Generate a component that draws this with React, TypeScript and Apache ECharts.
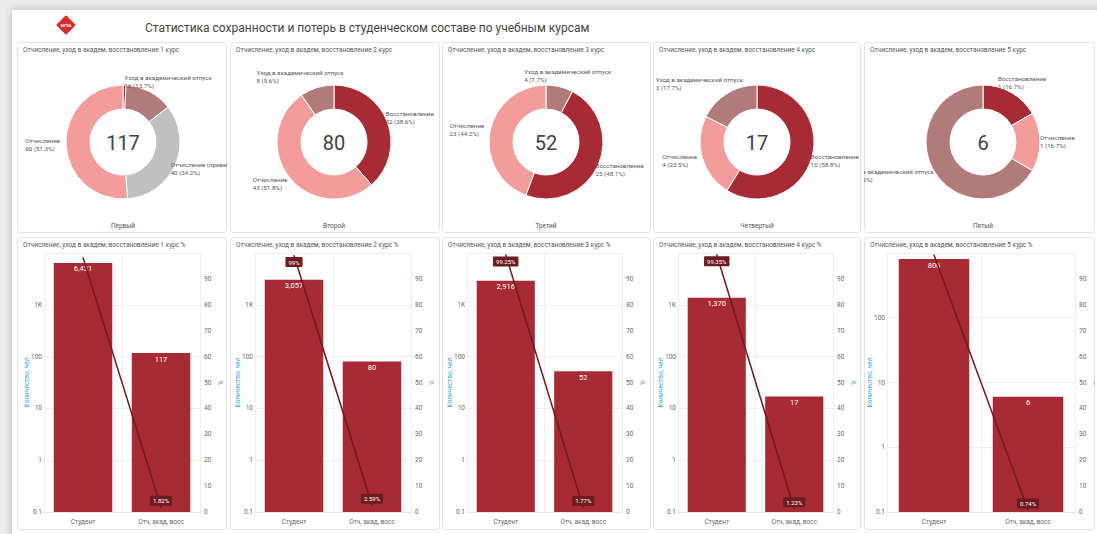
import React, { useEffect, useRef } from 'react';
import * as echarts from 'echarts';

// ---------- DATA ----------
const pageTitle = 'Статистика сохранности и потерь в студенческом составе по учебным курсам';
const courseNumbers = [1, 2, 3, 4, 5];
const courseNames = ['Первый', 'Второй', 'Третий', 'Четвертый', 'Пятый'];
const courseTotals = [117, 80, 52, 17, 6];

const pie1Names = ['Восстановление', 'Уход в академический отпуск', 'Отчисление (приемная комиссия)', 'Отчисление'];
const pie1Values = [1, 16, 40, 60];
const pie2Names = ['Восстановление', 'Отчисление', 'Уход в академический отпуск'];
const pie2Values = [32, 43, 8];
const pie3Names = ['Уход в академический отпуск', 'Восстановление', 'Отчисление'];
const pie3Values = [4, 25, 23];
const pie4Names = ['Восстановление', 'Отчисление', 'Уход в академический отпуск'];
const pie4Values = [10, 4, 3];
const pie5Names = ['Восстановление', 'Отчисление', 'Уход в академический отпуск'];
const pie5Values = [1, 1, 4];
const pieNames = [pie1Names, pie2Names, pie3Names, pie4Names, pie5Names];
const pieValues = [pie1Values, pie2Values, pie3Values, pie4Values, pie5Values];
const hiddenPieLabels = ['1:Восстановление'];

const barCategories = ['Студент', 'Отч, акад, восс'];
const studentCounts = [6431, 3057, 2916, 1370, 806];
const lossCounts = [117, 80, 52, 17, 6];
const studentPercents = [98.18, 99, 99.25, 99.35, 99.26];
const lossPercents = [1.82, 2.59, 1.77, 1.23, 0.74];
const showStudentPercentLabel = [false, true, true, true, false];
const countAxisMin = 0.1;
const countAxisMax = [10000, 10000, 10000, 10000, 1000];
const percentTicks = [0, 10, 20, 30, 40, 50, 60, 70, 80, 90, 100];

// ---------- STYLE / LAYOUT ----------
const FONT = 'Roboto';
const sliceColors: Record<string, string> = {
  'Восстановление': '#a82a35',
  'Отчисление': '#f29c9c',
  'Уход в академический отпуск': '#b07b79',
  'Отчисление (приемная комиссия)': '#c0c0c0',
};
const BAR_COLOR = '#a82a35';
const LINE_COLOR = '#6d1b21';
const AXIS_NAME_COLOR = '#3d9fdf';
const colX = [17, 230, 442, 653, 864];
const colW = [210, 210, 209, 208, 231];
const row1Top = 42, row1H = 191;
const row2Top = 237, row2H = 293;
const pieCenterX = [106, 104, 104, 104, 119];
const gridLeft = [27, 25, 25, 25, 23];
const gridRight = [27, 29, 29, 28, 20];
const PIE_INNER = 33, PIE_OUTER = 57, PIE_LABEL_R = 60, PIE_LABEL_SHIFT = -3;

function panelFrame(w: number, h: number, title: string) {
  return [
    {
      type: 'rect', silent: true, z: -10,
      shape: { x: 0.5, y: 0.5, width: w - 1, height: h - 1, r: 3 },
      style: { fill: '#ffffff', stroke: '#e2e2e2', lineWidth: 1 },
    },
    {
      type: 'text', x: 6, y: 8,
      style: { text: title, fontSize: 6.5, fill: '#555', fontFamily: FONT, verticalAlign: 'middle' },
    },
  ];
}

function pieOption(i: number) {
  const w = colW[i], h = row1H;
  const cx = pieCenterX[i], cy = 100;
  const n = courseNumbers[i];
  const vals = pieValues[i];
  const total = vals.reduce((a, b) => a + b, 0);
  const data = pieNames[i].map((name, k) => {
    const item: any = { name, value: vals[k], itemStyle: { color: sliceColors[name] } };
    if (hiddenPieLabels.includes(n + ':' + name)) item.label = { show: false };
    return item;
  });
  return {
    animation: false,
    textStyle: { fontFamily: FONT },
    graphic: [
      ...panelFrame(w, h, `Отчисление, уход в академ, восстановление ${n} курс`),
      {
        type: 'text', x: cx, y: cy + 1, z: 10,
        style: { text: String(courseTotals[i]), fontSize: 20, fill: '#404040', fontFamily: FONT, align: 'center', verticalAlign: 'middle' },
      },
      {
        type: 'text', x: cx, y: 184,
        style: { text: courseNames[i], fontSize: 6.5, fill: '#555', fontFamily: FONT, align: 'center', verticalAlign: 'middle' },
      },
    ],
    series: [
      {
        type: 'pie',
        center: [cx, cy],
        radius: [PIE_INNER, PIE_OUTER],
        startAngle: 90,
        percentPrecision: 1,
        avoidLabelOverlap: false,
        itemStyle: { borderColor: '#fff', borderWidth: 1 },
        label: {
          show: true,
          position: 'outside',
          formatter: '{t|{b}}\n{t|{c} ({d}%)}',
          color: '#555',
          fontFamily: FONT,
          fontSize: 6.2,
          lineHeight: 8,
          overflow: 'none',
          rich: { t: { align: 'left', fontSize: 6.2, lineHeight: 8, color: '#555', fontFamily: FONT } },
        },
        labelLine: { show: false, length: 3, length2: 0 },
        labelLayout: (p: any) => {
          const k = p.dataIndex;
          let before = 0;
          for (let j = 0; j < k; j++) before += vals[j];
          const mid = ((before + vals[k] / 2) / total) * Math.PI * 2;
          const sx = Math.sin(mid), sy = -Math.cos(mid);
          const lw = p.labelRect.width, lh = p.labelRect.height;
          return {
            x: cx + sx * PIE_LABEL_R + (sx * lw) / 2 + PIE_LABEL_SHIFT,
            y: cy + sy * PIE_LABEL_R + (sy * lh) / 2,
            align: 'center',
            verticalAlign: 'middle',
          };
        },
        data,
      },
    ],
  };
}

function formatCount(v: number) {
  if (v >= 1000) return v / 1000 + 'K';
  return String(v);
}

function barOption(i: number) {
  const w = colW[i], h = row2H;
  const n = courseNumbers[i];
  return {
    animation: false,
    textStyle: { fontFamily: FONT },
    graphic: panelFrame(w, h, `Отчисление, уход в академ, восстановление ${n} курс %`),
    grid: { left: gridLeft[i], right: gridRight[i], top: 16, bottom: 18, containLabel: false, outerBoundsMode: 'none' },
    xAxis: {
      type: 'category',
      data: barCategories,
      axisTick: { show: false },
      axisLine: { show: true, lineStyle: { color: '#e6e6e6' } },
      axisLabel: { fontSize: 6.5, color: '#666', margin: 6, fontFamily: FONT },
      splitLine: { show: true, lineStyle: { color: '#eeeeee' } },
    },
    yAxis: [
      {
        type: 'log',
        logBase: 10,
        min: countAxisMin,
        max: countAxisMax[i],
        startValue: countAxisMin,
        name: 'Количество, чел',
        nameLocation: 'middle',
        nameGap: 14,
        nameMoveOverlap: false,
        nameTextStyle: { color: AXIS_NAME_COLOR, fontSize: 6.5, fontFamily: FONT },
        axisLine: { show: false },
        axisTick: { show: false },
        axisLabel: { fontSize: 6.5, color: '#666', margin: 2, showMaxLabel: false, formatter: formatCount, fontFamily: FONT },
        splitLine: { show: true, lineStyle: { color: '#eeeeee' } },
      },
      {
        type: 'value',
        min: percentTicks[0],
        max: percentTicks[percentTicks.length - 1],
        interval: percentTicks[1] - percentTicks[0],
        name: '%',
        nameLocation: 'middle',
        nameGap: 17,
        nameMoveOverlap: false,
        nameTextStyle: { color: AXIS_NAME_COLOR, fontSize: 6.5, fontFamily: FONT },
        axisLine: { show: false },
        axisTick: { show: false },
        axisLabel: { fontSize: 6.5, color: '#666', margin: 4, showMaxLabel: false, fontFamily: FONT },
        splitLine: { show: false },
      },
    ],
    series: [
      {
        type: 'bar',
        yAxisIndex: 0,
        barWidth: '75%',
        itemStyle: { color: BAR_COLOR },
        label: {
          show: true,
          position: 'insideTop',
          distance: 2,
          color: '#fff',
          fontSize: 7.5,
          fontFamily: FONT,
          formatter: (p: any) => Number(p.value).toLocaleString('en-US'),
        },
        data: [studentCounts[i], lossCounts[i]],
      },
      {
        type: 'line',
        yAxisIndex: 1,
        symbol: 'circle',
        symbolSize: 1,
        itemStyle: { color: LINE_COLOR },
        lineStyle: { color: LINE_COLOR, width: 1.5 },
        z: 5,
        label: {
          show: true,
          color: '#fff',
          backgroundColor: '#6d1b21',
          padding: [2, 3],
          borderRadius: 1,
          fontSize: 6,
          fontFamily: FONT,
          distance: 1,
          formatter: (p: any) => p.value + '%',
        },
        data: [
          { value: studentPercents[i], label: { show: showStudentPercentLabel[i], position: 'bottom' } },
          { value: lossPercents[i], label: { show: true, position: 'top' } },
        ],
      },
    ],
  };
}

function headerOption() {
  return {
    animation: false,
    graphic: [
      { type: 'rect', silent: true, shape: { x: 0, y: 0, width: 1097, height: 534 }, style: { fill: '#ececec' } },
      {
        type: 'rect', silent: true,
        shape: { x: 12, y: 10, width: 1097, height: 534 },
        style: { fill: '#ffffff', shadowBlur: 8, shadowColor: 'rgba(0,0,0,0.25)', shadowOffsetX: 0, shadowOffsetY: 0 },
      },
      {
        type: 'rect', silent: true,
        x: 66, y: 25, rotation: Math.PI / 4,
        shape: { x: -7, y: -7, width: 14, height: 14, r: 1 },
        style: { fill: '#d42e2e' },
      },
      {
        type: 'text', x: 66, y: 25,
        style: { text: 'МГЕА', fontSize: 4, fill: '#fff', fontFamily: FONT, align: 'center', verticalAlign: 'middle', fontWeight: 'bold' },
      },
      {
        type: 'text', x: 145, y: 28,
        style: { text: pageTitle, fontSize: 12, fill: '#444', fontFamily: FONT, verticalAlign: 'middle' },
      },
    ],
  };
}

function ChartBox(props: { left: number; top: number; width: number; height: number; option: any }) {
  const ref = useRef<HTMLDivElement>(null);
  useEffect(() => {
    const chart = echarts.init(ref.current as HTMLDivElement, undefined, { renderer: 'svg' });
    chart.setOption(props.option);
    return () => chart.dispose();
  }, []);
  return (
    <div
      ref={ref}
      style={{ position: 'absolute', left: props.left, top: props.top, width: props.width, height: props.height, overflow: 'hidden' }}
    />
  );
}

export default function App() {
  return (
    <div style={{ position: 'absolute', left: 0, top: 0, width: 1097, height: 534, overflow: 'hidden', fontFamily: FONT }}>
      <ChartBox left={0} top={0} width={1097} height={534} option={headerOption()} />
      {courseNumbers.map((_, i) => (
        <ChartBox key={'p' + i} left={colX[i]} top={row1Top} width={colW[i]} height={row1H} option={pieOption(i)} />
      ))}
      {courseNumbers.map((_, i) => (
        <ChartBox key={'b' + i} left={colX[i]} top={row2Top} width={colW[i]} height={row2H} option={barOption(i)} />
      ))}
    </div>
  );
}
